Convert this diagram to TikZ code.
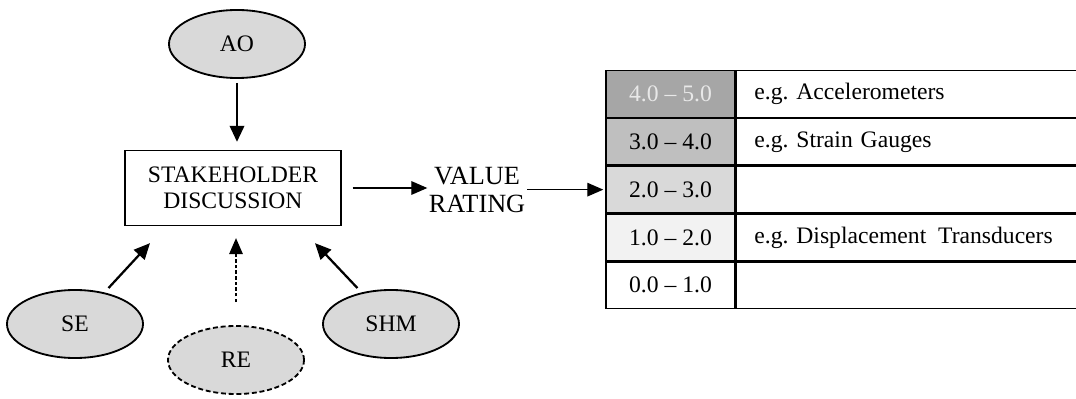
\documentclass[tikz,border=0pt]{standalone}
\usepackage{fontspec}
\setmainfont{Liberation Serif}
\usepackage{xcolor}
\usetikzlibrary{arrows.meta,positioning,calc,shapes.geometric}
\frenchspacing

\definecolor{ellgray}{HTML}{D9D9D9}
\definecolor{rateA}{HTML}{A6A6A6}
\definecolor{rateB}{HTML}{BFBFBF}
\definecolor{rateC}{HTML}{D9D9D9}
\definecolor{rateD}{HTML}{F2F2F2}
\definecolor{paletext}{HTML}{E8E8E8}

\begin{document}
\begin{tikzpicture}[
    x=0.025cm, y=-0.025cm,
    actor/.style={draw, ellipse, fill=ellgray, line width=1.3pt, minimum width=3.4cm, minimum height=1.7cm, inner sep=0pt, font=\fontsize{16.8}{18.4}\selectfont},
    hub/.style={draw, rectangle, line width=0.9pt, minimum width=5.4cm, minimum height=1.875cm, align=center, font=\fontsize{16.8}{18.4}\selectfont},
    scorecell/.style={draw, rectangle, line width=1pt, minimum width=3.225cm, minimum height=1.16cm, inner sep=0pt, font=\fontsize{16.8}{18.4}\selectfont},
    example/.style={draw, rectangle, line width=1pt, text width=7.725cm, inner xsep=0.45cm, inner ysep=0pt, minimum height=1.16cm, align=left, font=\fontsize{16.8}{18.4}\selectfont},
    arr/.style={-{Triangle[length=4mm, width=3.6mm]}, line width=1.6pt},
    thinarr/.style={-{Triangle[length=4mm, width=3.4mm]}, line width=0.9pt}
]
\useasboundingbox (0,0) rectangle (1076,399);

% stakeholders around the discussion
\node[actor] (AO) at (237,44) {AO};
\node[hub] (disc) at (233,188) {STAKEHOLDER\\DISCUSSION};
\node[actor] (SE) at (75,324) {SE};
\node[actor, dashed, dash pattern=on 3.5pt off 2pt] (RE) at (236,360) {RE};
\node[actor] (SHM) at (391,324) {SHM};

\draw[arr, shorten <=0.1cm, shorten >=0.2cm] (AO) -- (AO |- disc.north);
\draw[arr, shorten <=0.15cm] (SE.47) -- ($(disc.south)+(-83,17)$);
\draw[thinarr, dash pattern=on 2.5pt off 1.5pt, shorten <=0.575cm, shorten >=0.3cm] (RE) -- (RE |- disc.south);
\draw[arr, shorten <=0.15cm] (SHM.133) -- ($(disc.south)+(82,17)$);

% rating output
\node[align=center, inner sep=0pt, font=\fontsize{18.7}{19.9}\selectfont] (rate) at (477,190) {VALUE\\RATING};
\draw[thinarr, shorten <=0.275cm, shorten >=0.03cm] (disc.east) -- (rate.west |- disc.east);

% rating scale
\node[scorecell, fill=rateA, text=paletext] (r5) at (670.5,94) {4.0 -- 5.0};
\node[scorecell, fill=rateB, below=0pt of r5] (r4) {3.0 -- 4.0};
\node[scorecell, fill=rateC, below=0pt of r4] (r3) {2.0 -- 3.0};
\node[scorecell, fill=rateD, below=0pt of r3] (r2) {1.0 -- 2.0};
\node[scorecell, below=0pt of r2] (r1) {0.0 -- 1.0};
\node[example, right=0pt of r5] (e5) {e.g. Accelerometers};
\node[example, right=0pt of r4] (e4) {e.g. Strain Gauges};
\node[example, right=0pt of r3] (e3) {};
\node[example, right=0pt of r2] (e2) {e.g. Displacement\, Transducers};
\node[example, right=0pt of r1] (e1) {};

\draw[thinarr, shorten <=0.05cm, shorten >=0.05cm] (rate.east |- r3.west) -- (r3.west);
\end{tikzpicture}
\end{document}
